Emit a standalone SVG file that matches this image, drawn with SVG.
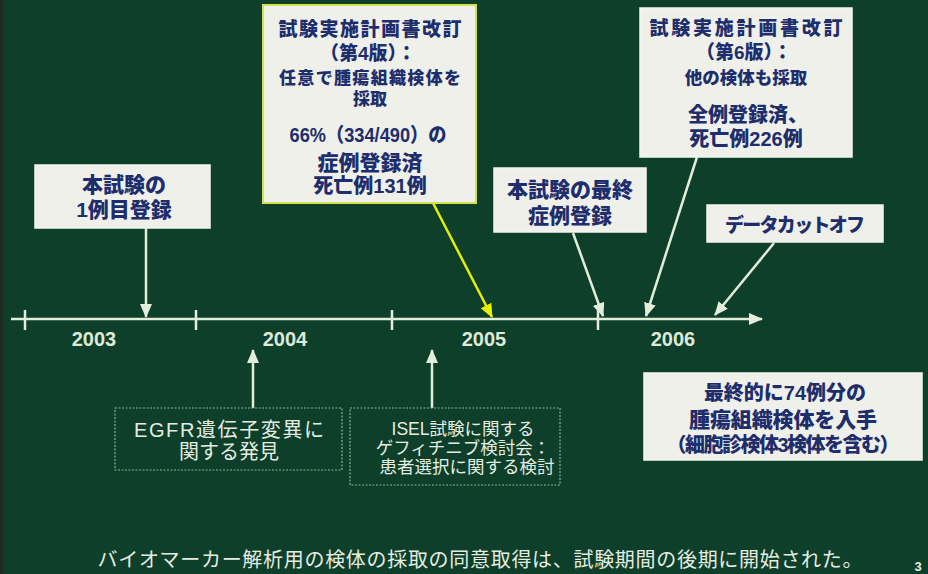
<svg xmlns="http://www.w3.org/2000/svg" width="928" height="574" viewBox="0 0 928 574">
<defs>
<style>
.bg{fill:#0d3f2b}
.box{fill:#eef0e9;stroke:#f4f6ee;stroke-width:1.5}
.box1{fill:#eef0e9;stroke:#d6e04c;stroke-width:2}
.dash{fill:none;stroke:#8fb096;stroke-width:1.2;stroke-dasharray:2 1.5}
.t{font-family:"Liberation Sans","Noto Sans CJK JP",sans-serif;font-weight:900;fill:#1e2e6c;text-anchor:middle}
.w{font-family:"Liberation Sans","Noto Sans CJK JP",sans-serif;fill:#e6ede0;text-anchor:middle}
.yr{font-family:"Liberation Sans",sans-serif;font-weight:bold;font-size:20px;fill:#dfe9d8;text-anchor:middle}
.ln{stroke:#e2eedb;stroke-width:2.5;fill:none}
.yl{stroke:#e4f000;stroke-width:2.5;fill:none}
</style>
<marker id="ah" viewBox="0 0 14 12" refX="13" refY="6" markerWidth="14" markerHeight="12" markerUnits="userSpaceOnUse" orient="auto">
<path d="M0,0 L14,6 L0,12 Z" fill="#e2eedb"/>
</marker>
<marker id="ahy" viewBox="0 0 14 12" refX="13" refY="6" markerWidth="14" markerHeight="12" markerUnits="userSpaceOnUse" orient="auto">
<path d="M0,0 L14,6 L0,12 Z" fill="#e4f000"/>
</marker>
</defs>
<rect class="bg" x="0" y="0" width="928" height="574"/>
<rect x="0" y="0" width="3" height="574" fill="#1e2a20"/>

<g id="connectors">
<line class="ln" x1="11" y1="319" x2="762" y2="319" marker-end="url(#ah)"/>
<line class="ln" x1="25" y1="310" x2="25" y2="330" stroke-width="1.2"/>
<line class="ln" x1="196" y1="310" x2="196" y2="330" stroke-width="1.2"/>
<line class="ln" x1="392" y1="310" x2="392" y2="330" stroke-width="1.2"/>
<line class="ln" x1="598" y1="310" x2="598" y2="330" stroke-width="1.2"/>
<line class="ln" x1="146" y1="228" x2="146" y2="317" marker-end="url(#ah)"/>
<line class="yl" x1="433" y1="203" x2="492" y2="317" marker-end="url(#ahy)"/>
<line class="ln" x1="573" y1="233" x2="603" y2="316" marker-end="url(#ah)"/>
<line class="ln" x1="697" y1="157" x2="646" y2="316" marker-end="url(#ah)"/>
<line class="ln" x1="774" y1="243" x2="715" y2="315" marker-end="url(#ah)"/>
<line class="ln" x1="253" y1="408" x2="253" y2="350" marker-end="url(#ah)"/>
<line class="ln" x1="432" y1="408" x2="432" y2="350" marker-end="url(#ah)"/>
</g>

<g id="years">
<text class="yr" x="94" y="346">2003</text>
<text class="yr" x="285" y="346">2004</text>
<text class="yr" x="484" y="346">2005</text>
<text class="yr" x="673" y="346">2006</text>
</g>

<g id="node-v4">
<rect class="box1" x="263" y="5" width="213" height="198"/>
<text class="t" x="370" y="36" font-size="19" textLength="183" lengthAdjust="spacing">試験実施計画書改訂</text>
<text class="t" x="368" y="60" font-size="19">（第4版）：</text>
<text class="t" x="370" y="84" font-size="17" textLength="182" lengthAdjust="spacing">任意で腫瘍組織検体を</text>
<text class="t" x="370" y="105" font-size="17">採取</text>
<text class="t" x="368" y="142" font-size="20" textLength="157" lengthAdjust="spacingAndGlyphs">66%（334/490）の</text>
<text class="t" x="370" y="170" font-size="21">症例登録済</text>
<text class="t" x="370" y="193" font-size="20">死亡例131例</text>
</g>

<g id="node-v6">
<rect class="box" x="640" y="8" width="212" height="149"/>
<text class="t" x="746" y="35" font-size="19" textLength="193" lengthAdjust="spacing">試験実施計画書改訂</text>
<text class="t" x="744" y="59" font-size="19">（第6版）：</text>
<text class="t" x="746" y="84" font-size="17.5">他の検体も採取</text>
<text class="t" x="748" y="122" font-size="20">全例登録済、</text>
<text class="t" x="746" y="146" font-size="20">死亡例226例</text>
</g>

<g id="node-first">
<rect class="box" x="35" y="165" width="175" height="63"/>
<text class="t" x="124" y="192" font-size="21">本試験の</text>
<text class="t" x="124" y="217" font-size="21">1例目登録</text>
</g>

<g id="node-last">
<rect class="box" x="494" y="168" width="152" height="64"/>
<text class="t" x="570" y="197" font-size="21">本試験の最終</text>
<text class="t" x="570" y="223" font-size="21">症例登録</text>
</g>

<g id="node-cutoff">
<rect class="box" x="707" y="205" width="176" height="37"/>
<text class="t" x="795" y="232" font-size="19" textLength="140" lengthAdjust="spacing">データカットオフ</text>
</g>

<g id="node-final">
<rect class="box" x="644" y="373" width="278" height="87"/>
<text class="t" x="785" y="400" font-size="20">最終的に74例分の</text>
<text class="t" x="783" y="427" font-size="21" textLength="188" lengthAdjust="spacing">腫瘍組織検体を入手</text>
<text class="t" x="783" y="452" font-size="20" font-weight="bold" textLength="233" lengthAdjust="spacing">（細胞診検体3検体を含む）</text>
</g>

<g id="node-egfr">
<rect class="dash" x="115" y="408" width="227" height="62"/>
<text class="w" x="229" y="437" font-size="20" textLength="190" lengthAdjust="spacing">EGFR遺伝子変異に</text>
<text class="w" x="229" y="459" font-size="20">関する発見</text>
</g>

<g id="node-isel">
<rect class="dash" x="350" y="408" width="210" height="77"/>
<text class="w" x="463" y="435" font-size="17.5">ISEL試験に関する</text>
<text class="w" x="463" y="454" font-size="17.5">ゲフィチニブ検討会：</text>
<text class="w" x="467" y="473" font-size="17.5" fill="#d8e2d2">患者選択に関する検討</text>
</g>

<g id="footer">
<text class="w" x="480" y="567" font-size="20" textLength="765" lengthAdjust="spacing">バイオマーカー解析用の検体の採取の同意取得は、試験期間の後期に開始された。</text>
<text class="w" x="918" y="571" font-size="13" font-weight="bold">3</text>
</g>
</svg>
